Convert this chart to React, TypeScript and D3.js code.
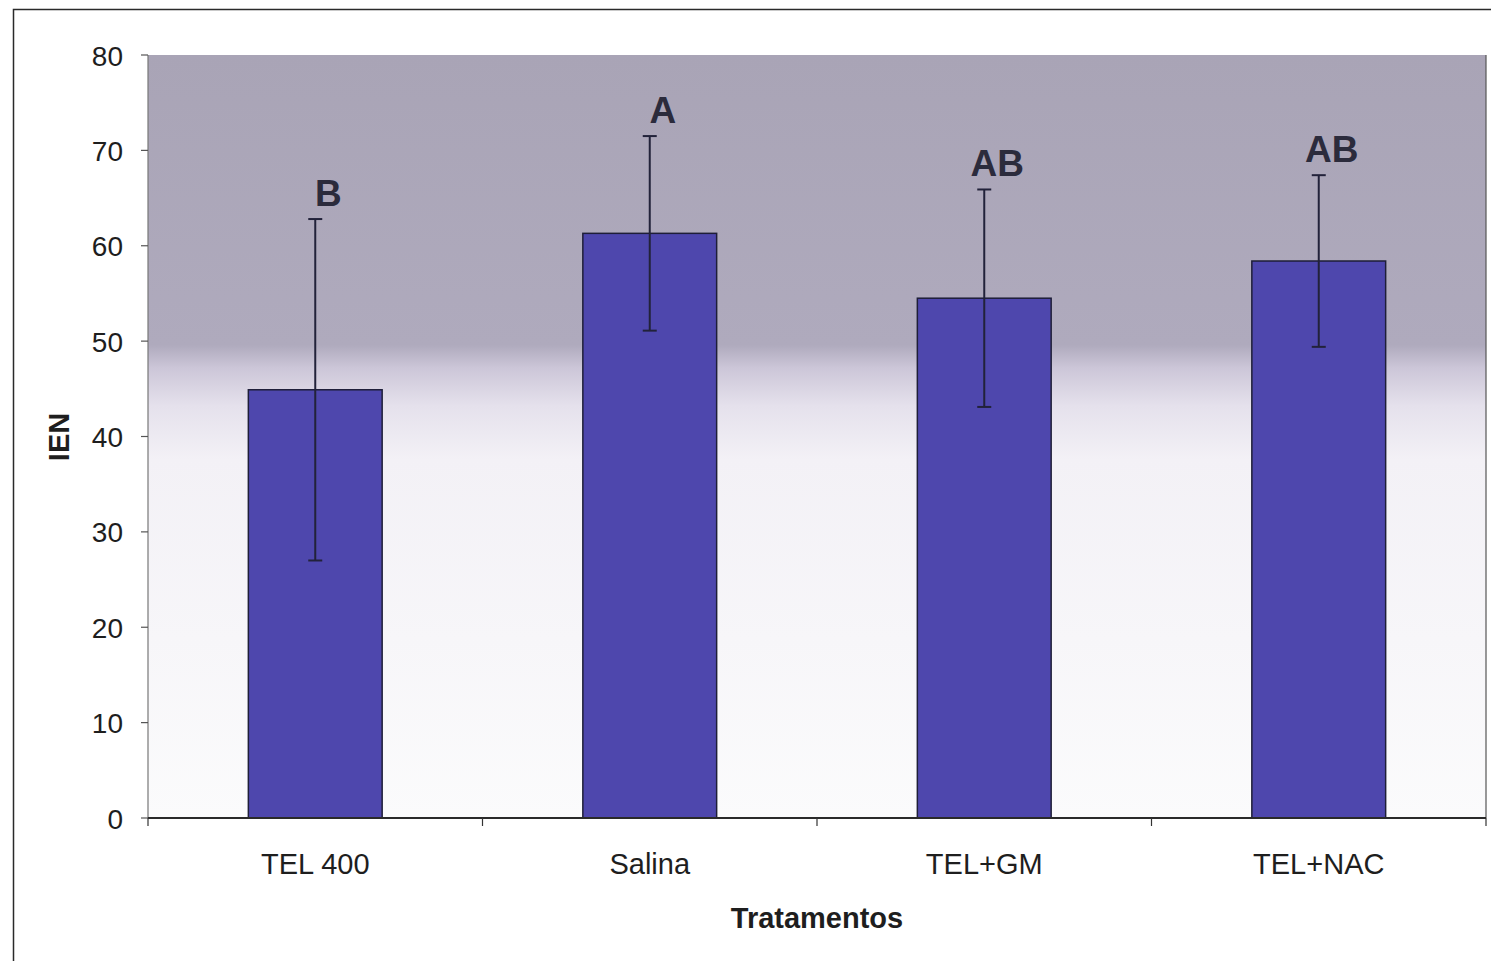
import React from "react";
import * as d3 from "d3";

// Treatment groups, mean IEN values, standard deviations and significance letters
const categories = ["TEL 400", "Salina", "TEL+GM", "TEL+NAC"];
const means = [44.9, 61.3, 54.5, 58.4];
const errors = [17.9, 10.2, 11.4, 9.0];
const letters = ["B", "A", "AB", "AB"];
const yTicks = [0, 10, 20, 30, 40, 50, 60, 70, 80];

const W = 1491;
const H = 961;
const plot = { left: 148, right: 1486, top: 55, bottom: 818 };
const FONT = "'Liberation Sans', Arial, Helvetica, sans-serif";

export default function App() {
  const x = d3
    .scaleBand<string>()
    .domain(categories)
    .range([plot.left, plot.right])
    .paddingInner(0.6)
    .paddingOuter(0.3);
  const y = d3.scaleLinear().domain([0, 80]).range([plot.bottom, plot.top]);
  const step = x.step();
  const boundaries = d3.range(categories.length + 1).map((i) => plot.left + i * step);

  return (
    <svg
      width={W}
      height={H}
      style={{ position: "absolute", left: 0, top: 0, background: "#fff" }}
      fontFamily={FONT}
    >
      <defs>
        <linearGradient id="plotBg" x1="0" y1="0" x2="0" y2="1">
          <stop offset="0" stopColor="#a9a4b6" />
          <stop offset="0.38" stopColor="#afaabd" />
          <stop offset="0.41" stopColor="#ccc6d8" />
          <stop offset="0.46" stopColor="#e5e1ec" />
          <stop offset="0.53" stopColor="#f3f1f6" />
          <stop offset="1" stopColor="#fbfbfc" />
        </linearGradient>
      </defs>

      {/* outer frame */}
      <rect x={13.5} y={9.5} width={1500} height={960} fill="none" stroke="#2a2a2a" strokeWidth={1.5} />

      {/* plot background */}
      <rect
        x={plot.left}
        y={plot.top}
        width={plot.right - plot.left}
        height={plot.bottom - plot.top}
        fill="url(#plotBg)"
      />
      <line x1={plot.right} x2={plot.right} y1={plot.top} y2={plot.bottom} stroke="#555" strokeWidth={1.2} />

      {/* bars */}
      {categories.map((c, i) => (
        <rect
          key={c}
          x={x(c)!}
          y={y(means[i])}
          width={x.bandwidth()}
          height={y(0) - y(means[i])}
          fill="#4e47ad"
          stroke="#1e1e38"
          strokeWidth={1.5}
        />
      ))}

      {/* error bars */}
      {categories.map((c, i) => {
        const cx = x(c)! + x.bandwidth() / 2;
        const hi = y(means[i] + errors[i]);
        const lo = y(means[i] - errors[i]);
        return (
          <g key={c} stroke="#22223a" strokeWidth={2}>
            <line x1={cx} x2={cx} y1={hi} y2={lo} />
            <line x1={cx - 7} x2={cx + 7} y1={hi} y2={hi} />
            <line x1={cx - 7} x2={cx + 7} y1={lo} y2={lo} />
          </g>
        );
      })}

      {/* significance letters */}
      {categories.map((c, i) => (
        <text
          key={c}
          x={x(c)! + x.bandwidth() / 2 + 13}
          y={y(means[i] + errors[i]) - 13}
          textAnchor="middle"
          fontSize={37}
          fontWeight="bold"
          fill="#2b2b3c"
        >
          {letters[i]}
        </text>
      ))}

      {/* y axis */}
      <line x1={plot.left} x2={plot.left} y1={plot.top} y2={plot.bottom} stroke="#777" strokeWidth={1.2} />
      {yTicks.map((t) => (
        <g key={t}>
          <line x1={plot.left - 7} x2={plot.left} y1={y(t)} y2={y(t)} stroke="#555" strokeWidth={1.2} />
          <text
            x={123}
            y={y(t) + 1}
            textAnchor="end"
            dominantBaseline="central"
            fontSize={28}
            fill="#1e1e1e"
          >
            {t}
          </text>
        </g>
      ))}

      {/* x axis */}
      <line x1={plot.left} x2={plot.right} y1={plot.bottom} y2={plot.bottom} stroke="#2a2a2a" strokeWidth={2} />
      {boundaries.map((bx, i) => (
        <line key={i} x1={bx} x2={bx} y1={plot.bottom} y2={plot.bottom + 8} stroke="#333" strokeWidth={1.2} />
      ))}
      {categories.map((c) => (
        <text
          key={c}
          x={x(c)! + x.bandwidth() / 2}
          y={874}
          textAnchor="middle"
          fontSize={29}
          fill="#1e1e1e"
        >
          {c}
        </text>
      ))}

      {/* axis titles */}
      <text x={817} y={928} textAnchor="middle" fontSize={29} fontWeight="bold" fill="#1e1e1e">
        Tratamentos
      </text>
      <text
        transform="translate(69,437) rotate(-90)"
        textAnchor="middle"
        fontSize={29}
        fontWeight="bold"
        fill="#1e1e1e"
      >
        IEN
      </text>
    </svg>
  );
}
